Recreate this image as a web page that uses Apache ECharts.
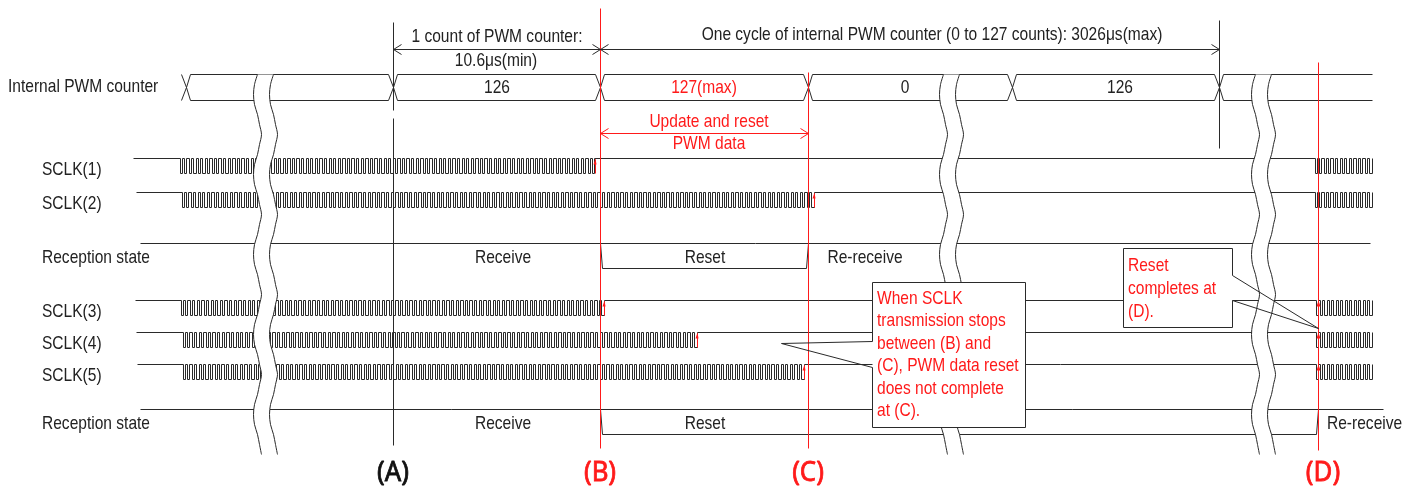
<!DOCTYPE html>
<html>
<head>
<meta charset="utf-8">
<script src="https://cdn.jsdelivr.net/npm/echarts@6/dist/echarts.min.js"></script>
<style>
    html, body { margin: 0; background: #fff; }
    #chart { width: 1417px; height: 490px; }
</style>
</head>
<body>
<div id="chart"></div>
<script>
// ---- timing data (x = time position along the diagram) ----
const markerNames = ['(A)', '(B)', '(C)', '(D)']
const markerTimes = [393, 600, 808, 1318]

const counterEdges = [186, 393, 600, 808, 1012, 1219]
const counterEnd = 1372
const counterValues = ['126', '127(max)', '0', '126']
const counterValueTimes = [497, 704, 905, 1120]

const sclkNames = ['SCLK(1)', 'SCLK(2)', 'SCLK(3)', 'SCLK(4)', 'SCLK(5)']
const sclkIdleFrom = [133, 136, 135, 136, 137]
const sclkStart = [180, 182, 181, 183, 183]
const sclkStop = [595, 814, 604, 697, 804]
const sclkRestart = [1315, 1315, 1316, 1316, 1316]
const sclkEnd = 1372
const sclkPeriod = 4.6

const stateLabels = ['Receive', 'Reset', 'Re-receive']
const resetFrom = [600, 600]
const resetTo = [808, 1318]

const breakTimes = [257, 943, 1255]
const breakWave = [0, -2.8, -4, -2.8, 0, 2.8, 4, 2.8, 0, -2.8, -4, -2.8, 0, 2.8, 4, 2.8, 0, -2.8, -4, -2.8,
    0, 2.8, 4, 2.8, 0, -2.8, -4, -2.8, 0, 2.8, 4, 2.8, 0, -2.8, -4, -2.8, 0, 2.8, 4]

const note1 = ['When SCLK', 'transmission stops', 'between (B) and', '(C), PWM data reset', 'does not complete', 'at (C).']
const note2 = ['Reset', 'completes at', '(D).']

// ---- layout / styles ----
const INK = '#2a2a2a'
const TXT = '#222'
const RED = '#ff1a1a'
const F = '18.5px "Liberation Sans", Arial, sans-serif'
const NARROW = 0.84 // 字体横向压缩, 模拟 Arial Narrow
const BUS = { top: 74, mid: 87, bot: 100, h: 4.5 }
const sclkHigh = [158, 192, 300, 332, 364]
const PULSE = 15
const stateTop = [243, 409]
const stateDrop = 25
const breakTop = 74
const breakStep = 10
const breakGap = 16

const shapes = []
const line = (points, color, width, smooth) => shapes.push({ kind: 'line', points, color: color || INK, width: width || 1, smooth })
const poly = (points, fill, smooth) => shapes.push({ kind: 'poly', points, fill, smooth })
const text = (str, x, y, color, align, font, sx, bold) =>
    shapes.push({ kind: 'text', str, at: [x, y], color: color || TXT, align: align || 'center', font: font || F, sx: sx || NARROW, bold })

// internal PWM counter bus
line([[counterEdges[0] - BUS.h, BUS.top], [counterEdges[0], BUS.mid], [counterEdges[0] - BUS.h, BUS.bot]])
for (let i = 0; i < counterEdges.length; i++) {
    const a = counterEdges[i]
    const b = i + 1 < counterEdges.length ? counterEdges[i + 1] : null
    if (b === null) {
        line([[counterEnd, BUS.top], [a + BUS.h, BUS.top], [a, BUS.mid], [a + BUS.h, BUS.bot], [counterEnd, BUS.bot]])
    } else {
        line([[a, BUS.mid], [a + BUS.h, BUS.top], [b - BUS.h, BUS.top], [b, BUS.mid], [b - BUS.h, BUS.bot], [a + BUS.h, BUS.bot], [a, BUS.mid]])
    }
}

// SCLK waveforms
function pulses(pts, x0, rise, yHi, yLo) {
    const n = Math.max(1, Math.round((rise - x0) / sclkPeriod + 0.5))
    const p = (rise - x0) / (n - 0.5)
    for (let k = 0; k < n; k++) {
        const f = x0 + k * p
        pts.push([f, yHi], [f, yLo], [f + p / 2, yLo], [f + p / 2, yHi])
    }
    return x0 + p / 2
}
function redEdge(x, yHi, yLo) {
    line([[x, yLo], [x, yHi + 1]], RED)
    poly([[x - 1.8, yHi + 6], [x, yHi], [x + 1.8, yHi + 6]], RED)
}
sclkNames.forEach((name, i) => {
    const hi = sclkHigh[i]
    const lo = hi + PULSE
    const pts = [[sclkIdleFrom[i], hi]]
    pulses(pts, sclkStart[i], sclkStop[i], hi, lo)
    const firstRise = pulses(pts, sclkRestart[i], sclkEnd, hi, lo)
    line(pts)
    redEdge(sclkStop[i], hi, lo)
    if (i >= 2) redEdge(firstRise, hi, lo)
    text(name, 42, hi + 12, TXT, 'left')
})

// reception state rows
stateTop.forEach((y, i) => {
    line([[140, y], [i === 0 ? 1370 : 1383, y]])
    line([[resetFrom[i], y], [resetFrom[i] + 2, y + stateDrop], [resetTo[i] - 2, y + stateDrop], [resetTo[i], y]])
    text('Reception state', 42, y + 15, TXT, 'left')
    text(stateLabels[0], 503, y + 15)
    text(stateLabels[1], 705, y + 15)
    if (i === 0) text(stateLabels[2], 865, y + 15)
    else text(stateLabels[2], 1327, y + 15, TXT, 'left')
})

// time-axis breaks
breakTimes.forEach(bx => {
    const left = breakWave.map((o, k) => [bx + o, breakTop + k * breakStep])
    const right = breakWave.map((o, k) => [bx + breakGap + o, breakTop + k * breakStep])
    poly(left.concat(right.slice().reverse()), '#fff')
    line(left, INK, 1, 0.3)
    line(right, INK, 1, 0.3)
})

// counter values
counterValues.forEach((v, i) => text(v, counterValueTimes[i], BUS.mid + 1, v.indexOf('max') >= 0 ? RED : TXT))
text('Internal PWM counter', 8, BUS.mid, TXT, 'left')

// reference lines
line([[markerTimes[0], 22], [markerTimes[0], 110]])
line([[markerTimes[0], 118], [markerTimes[0], 445]])
line([[counterEdges[5], 20], [counterEdges[5], 148]])
line([[markerTimes[1], 8], [markerTimes[1], 448]], RED)
line([[markerTimes[2], 72], [markerTimes[2], 448]], RED)
line([[markerTimes[3], 62], [markerTimes[3], 450]], RED)

// dimension arrows
function dimArrow(a, b, y, color) {
    line([[a, y], [b, y]], color)
    line([[a + 8, y - 5], [a, y], [a + 8, y + 5]], color)
    line([[b - 8, y - 5], [b, y], [b - 8, y + 5]], color)
}
dimArrow(markerTimes[0], markerTimes[1], 49)
dimArrow(markerTimes[1], counterEdges[5], 49)
dimArrow(markerTimes[1], markerTimes[2], 133, RED)
text('1 count of PWM counter:', 497, 37)
text('10.6μs(min)', 496, 61)
text('One cycle of internal PWM counter (0 to 127 counts): 3026μs(max)', 932, 35)
text('Update and reset', 709, 122, RED)
text('PWM data', 709, 144, RED)

// callouts
poly([[872, 282], [1025, 282], [1025, 427], [872, 427]], '#fff')
line([[872, 341], [872, 282], [1025, 282], [1025, 427], [872, 427], [872, 367], [781, 343], [872, 341]])
note1.forEach((s, k) => text(s, 877, 299 + k * 22.4, RED, 'left'))
poly([[1123, 248], [1232, 248], [1232, 327], [1123, 327]], '#fff')
line([[1232, 275], [1232, 248], [1123, 248], [1123, 327], [1232, 327], [1232, 300], [1318, 328], [1232, 275]])
note2.forEach((s, k) => text(s, 1128, 266 + k * 23, RED, 'left'))

// markers
markerNames.forEach((m, i) =>
    text(m, markerTimes[i] + (i === 3 ? 5 : 0), 473, i === 0 ? '#111' : RED, 'center', '28px "Noto Sans", sans-serif', 0.92, 0.8))

function snap(v) {
    return Math.round(v - 0.5) + 0.5
}

function renderItem(params, api) {
    const s = shapes[params.dataIndex]
    if (s.kind === 'text') {
        const c = api.coord(s.at)
        const style = { text: s.str, fill: s.color, font: s.font, align: s.align, verticalAlign: 'middle' }
        if (s.bold) {
            style.stroke = s.color
            style.lineWidth = s.bold
        }
        return { type: 'text', x: c[0], y: c[1], scaleX: s.sx, style }
    }
    const pts = s.points.map(p => {
        const c = api.coord(p)
        return [snap(c[0]), snap(c[1])]
    })
    if (s.kind === 'poly') {
        return { type: 'polygon', shape: { points: pts, smooth: s.smooth || 0 }, style: { fill: s.fill, stroke: null } }
    }
    return {
        type: 'polyline',
        shape: { points: pts, smooth: s.smooth || 0 },
        style: { fill: null, stroke: s.color, lineWidth: s.width },
    }
}

const myChart = echarts.init(document.getElementById('chart'))
const option = {
    animation: false,
    backgroundColor: '#fff',
    grid: { left: 0, right: 0, top: 0, bottom: 0 },
    xAxis: { type: 'value', min: 0, max: 1417, show: false },
    yAxis: { type: 'value', min: 0, max: 490, inverse: true, show: false },
    series: [
        {
            type: 'custom',
            silent: true,
            clip: false,
            renderItem: renderItem,
            data: shapes.map((s, i) => [i, 0]),
        },
    ],
}
option && myChart.setOption(option)
</script>
</body>
</html>
